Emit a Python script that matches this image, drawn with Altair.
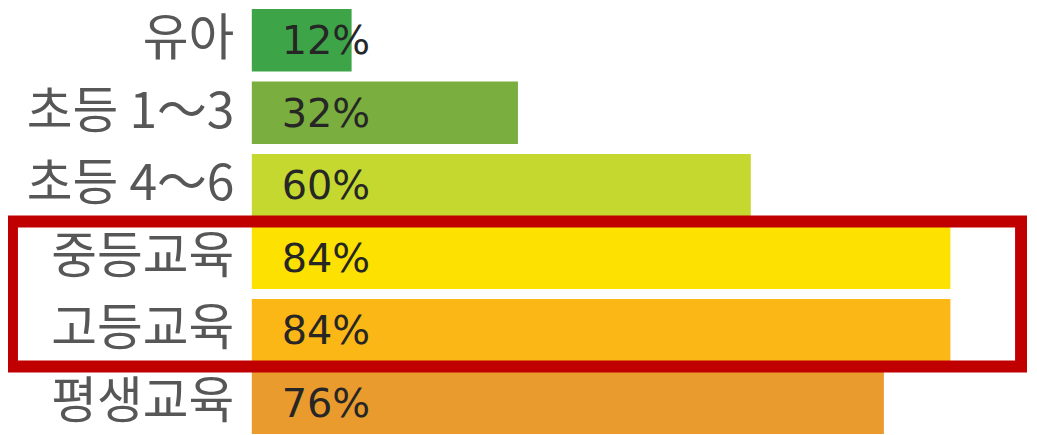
import altair as alt
import pandas as pd

# ---- data ----
categories = ["유아", "초등 1～3", "초등 4～6", "중등교육", "고등교육", "평생교육"]
values = [12, 32, 60, 84, 84, 76]
colors = ["#3da548", "#7aae3e", "#c4d82f", "#fde100", "#fbb715", "#e99b2d"]
highlight = ["중등교육", "고등교육"]

df = pd.DataFrame({
    "category": categories,
    "value": values,
    "label": [f"{v}%" for v in values],
})

# ---- layout constants ----
PLOT_W = 748
PLOT_H = 427
LEFT = 245
RIGHT = 33
X_MAX = 89.5
P_INNER = 0.14

y_enc = alt.Y(
    "category:N",
    sort=categories,
    scale=alt.Scale(paddingInner=P_INNER, paddingOuter=0),
    axis=alt.Axis(
        title=None, domain=False, ticks=False, grid=False,
        labelFont="Noto Sans CJK KR", labelFontSize=50, labelColor="#575757",
        labelPadding=18, labelFontWeight="normal", labelLimit=400,
    ),
)
x_enc = alt.X("value:Q", scale=alt.Scale(domain=[0, X_MAX]), axis=None)

bars = alt.Chart(df).mark_bar(cornerRadius=0).encode(
    x=x_enc,
    y=y_enc,
    color=alt.Color("category:N", scale=alt.Scale(domain=categories, range=colors), legend=None),
)

text = alt.Chart(df).transform_calculate(start="0").mark_text(
    align="left", baseline="middle", dx=30, dy=2,
    font="DejaVu Sans", fontSize=40, color="#262626",
).encode(
    x=alt.X("start:Q", scale=alt.Scale(domain=[0, X_MAX]), axis=None),
    y=alt.Y("category:N", sort=categories),
    text="label:N",
)

# highlight box around the highlighted rows, derived from band layout
step = PLOT_H / (len(categories) - P_INNER)
i0 = categories.index(highlight[0])
i1 = categories.index(highlight[-1]) + 1
box_top = i0 * step - P_INNER * step / 2
box_bottom = i1 * step - P_INNER * step / 2
box_left = 4 - LEFT
box_right = LEFT + PLOT_W + RIGHT - 8 - LEFT

box = alt.Chart(pd.DataFrame({"k": [0]})).mark_rect(
    fillOpacity=0, stroke="#c00000", strokeWidth=12,
).encode(
    x=alt.value(box_left), x2=alt.value(box_right),
    y=alt.value(box_top), y2=alt.value(box_bottom),
)

chart = alt.layer(bars, text, box).properties(
    width=PLOT_W,
    height=PLOT_H,
    padding={"left": LEFT, "top": 0, "right": RIGHT, "bottom": 0},
    autosize=alt.AutoSizeParams(type="none"),
    background="white",
).configure_view(stroke=None)

chart.save("out.html", embed_options={"renderer": "svg", "actions": False})
